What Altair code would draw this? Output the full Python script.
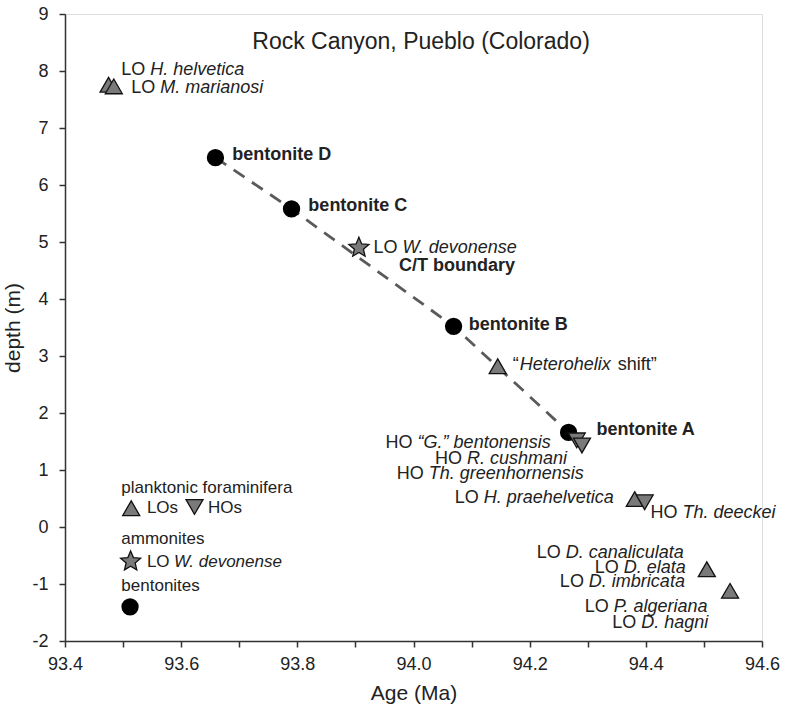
import altair as alt
import pandas as pd

FONT = "Liberation Sans"
TXT = "#222222"
GRAY_FILL = "#7a7a7a"

x_domain = [93.4, 94.6]
y_domain = [-2, 9]
x_ticks = [93.4, 93.5, 93.6, 93.7, 93.8, 93.9, 94.0, 94.1, 94.2, 94.3, 94.4, 94.5, 94.6]
y_ticks = [-2, -1, 0, 1, 2, 3, 4, 5, 6, 7, 8, 9]

# bentonites
bent_label = ["bentonite D", "bentonite C", "bentonite B", "bentonite A"]
bent_age = [93.659, 93.790, 94.069, 94.267]
bent_depth = [6.48, 5.58, 3.52, 1.66]
bent_label_age = [93.688, 93.819, 94.095, 94.315]
bent_label_depth = [6.53, 5.625, 3.55, 1.71]

# ammonite LO
amm_age = [93.906]
amm_depth = [4.90]

# planktonic foraminifera
lo_age = [93.475, 93.484, 94.145, 94.381, 94.505, 94.545]
lo_depth = [7.76, 7.73, 2.82, 0.49, -0.74, -1.12]
ho_age = [94.281, 94.290, 94.398]
ho_depth = [1.52, 1.43, 0.435]

# labels
lo_taxa = ["H. helvetica", "M. marianosi", "W. devonense", "H. praehelvetica",
           "D. canaliculata", "D. elata", "D. imbricata", "P. algeriana", "D. hagni"]
lo_lab_age = [93.497, 93.514, 93.931, 94.071, 94.212, 94.312, 94.252, 94.295, 94.342]
lo_lab_depth = [8.02, 7.70, 4.90, 0.517, -0.459, -0.727, -0.972, -1.41, -1.69]

ho_taxa = ["\u201cG.\u201d bentonensis", "R. cushmani", "Th. greenhornensis", "Th. deeckei"]
ho_lab_age = [93.952, 94.037, 93.971, 94.408]
ho_lab_depth = [1.48, 1.20, 0.925, 0.254]

ct_label = ["C/T boundary"]
ct_age = [93.975]
ct_depth = [4.586]

hetero_age = [94.171]
hetero_depth = [2.85]

title_text = ["Rock Canyon, Pueblo (Colorado)"]
title_age = [94.013]
title_depth = [8.515]

# legend
leg_text = ["planktonic foraminifera", "LOs", "HOs", "ammonites", "bentonites"]
leg_text_age = [93.497, 93.541, 93.646, 93.497, 93.497]
leg_text_depth = [0.692, 0.33, 0.33, -0.213, -1.04]
leg_amm_text = ["W. devonense"]
leg_amm_age = [93.541]
leg_amm_depth = [-0.616]
leg_lo_age, leg_lo_depth = [93.514], [0.33]
leg_ho_age, leg_ho_depth = [93.623], [0.352]
leg_star_age, leg_star_depth = [93.513], [-0.604]
leg_bent_age, leg_bent_depth = [93.512], [-1.40]

STAR = ("M0,-1L0.265,-0.364L0.951,-0.309L0.428,0.139L0.588,0.809L0,0.45"
        "L-0.588,0.809L-0.428,0.139L-0.951,-0.309L-0.265,-0.364Z")

X = alt.X("age:Q", scale=alt.Scale(domain=x_domain, nice=False, zero=False),
          axis=alt.Axis(title="Age (Ma)", values=x_ticks, grid=False,
                        labelExpr="round(datum.value*10) % 2 == 0 ? format(datum.value, '.1f') : ''",
                        labelFont=FONT, labelFontSize=18, labelColor=TXT,
                        titleFont=FONT, titleFontSize=21, titleColor=TXT, titleFontWeight="normal",
                        tickSize=6, tickWidth=1.5, tickColor="#333", domainColor="#333", domainWidth=1.5,
                        labelPadding=8, titlePadding=9, labelFlush=False, labelOverlap=False))
Y = alt.Y("depth:Q", scale=alt.Scale(domain=y_domain, nice=False, zero=False),
          axis=alt.Axis(title="depth (m)", values=y_ticks, grid=False,
                        labelExpr="'' + datum.value",
                        labelFont=FONT, labelFontSize=18, labelColor=TXT,
                        titleFont=FONT, titleFontSize=21, titleColor=TXT, titleFontWeight="normal",
                        tickSize=6, tickWidth=1.5, tickColor="#333", domainColor="#333", domainWidth=1.5,
                        labelPadding=11, titlePadding=8, labelFlush=False, labelOverlap=False))


def df_pts(ages, depths, labels=None):
    d = {"age": ages, "depth": depths}
    if labels is not None:
        d["label"] = labels
    return pd.DataFrame(d)


def pts(df, **kw):
    return alt.Chart(df).mark_point(opacity=1, fillOpacity=1, **kw).encode(x=X, y=Y)


def txt(df, **kw):
    opts = dict(font=FONT, color=TXT, align="left", baseline="middle", fontSize=18)
    opts.update(kw)
    return alt.Chart(df).mark_text(**opts).encode(x=X, y=Y, text="label:N")


bent_df = df_pts(bent_age, bent_depth)
line = alt.Chart(bent_df).mark_line(color="#5a5a5a", strokeWidth=2.8, strokeDash=[13, 9]).encode(x=X, y=Y)

tri_style = dict(fill=GRAY_FILL, stroke="#111", strokeWidth=1.3, filled=True, size=290)

layers = [
    line,
    pts(df_pts(bent_age + leg_bent_age, bent_depth + leg_bent_depth), shape="circle",
        filled=True, fill="black", stroke="black", size=235),
    pts(df_pts(lo_age + leg_lo_age, lo_depth + leg_lo_depth), shape="triangle-up", **tri_style),
    pts(df_pts(ho_age + leg_ho_age, ho_depth + leg_ho_depth), shape="triangle-down", **tri_style),
    pts(df_pts(amm_age + leg_star_age, amm_depth + leg_star_depth), shape=STAR,
        fill=GRAY_FILL, stroke="#111", strokeWidth=1.3, filled=True, size=440),
    # title
    txt(df_pts(title_age, title_depth, title_text), fontSize=23, align="center"),
    # bold labels
    txt(df_pts(bent_label_age + ct_age, bent_label_depth + ct_depth, bent_label + ct_label),
        fontWeight="bold"),
    # LO labels
    txt(df_pts(lo_lab_age, lo_lab_depth, ["LO"] * len(lo_taxa))),
    txt(df_pts(lo_lab_age, lo_lab_depth, lo_taxa), fontStyle="italic", dx=29),
    # HO labels
    txt(df_pts(ho_lab_age, ho_lab_depth, ["HO"] * len(ho_taxa))),
    txt(df_pts(ho_lab_age, ho_lab_depth, ho_taxa), fontStyle="italic", dx=32),
    # Heterohelix shift
    txt(df_pts(hetero_age, hetero_depth, ["\u201c"])),
    txt(df_pts(hetero_age, hetero_depth, ["Heterohelix"]), fontStyle="italic", dx=7),
    txt(df_pts(hetero_age, hetero_depth, ["shift\u201d"]), dx=105),
    # legend
    txt(df_pts(leg_text_age, leg_text_depth, leg_text), fontSize=17),
    txt(df_pts(leg_amm_age, leg_amm_depth, ["LO"]), fontSize=17),
    txt(df_pts(leg_amm_age, leg_amm_depth, leg_amm_text), fontSize=17, fontStyle="italic", dx=27),
]

chart = alt.layer(*layers).properties(
    width=697, height=627,
    autosize=alt.AutoSizeParams(type="none"),
    padding={"left": 65, "top": 14, "right": 24, "bottom": 71},
).configure_view(stroke="#333", strokeWidth=1.5).configure(background="white")

chart.save("out.html", embed_options={"renderer": "svg", "actions": False})
